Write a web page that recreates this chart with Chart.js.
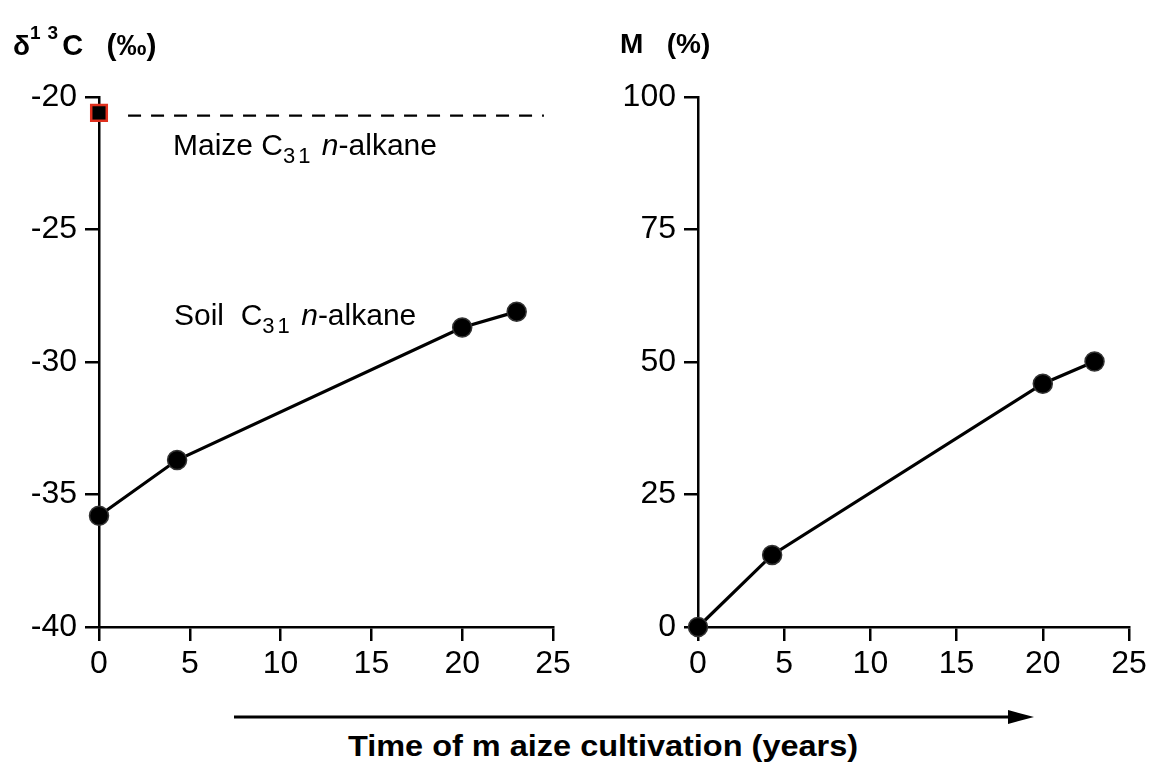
<!DOCTYPE html>
<html>
<head>
<meta charset="utf-8">
<script src="https://cdn.jsdelivr.net/npm/chart.js@4.4.0/dist/chart.umd.min.js"></script>
<style>
  body { margin: 0; background: #fff; width: 1176px; height: 769px; position: relative; overflow: hidden;
         font-family: "Liberation Sans", Arial, sans-serif; color: #000; }
  .panel { position: absolute; top: 0; }
  .txt { position: absolute; white-space: pre; line-height: 1; }
  .ttl { font-weight: bold; font-size: 28px; }
  .ann { font-size: 30px; }
  .sub { position: relative; top: 8px; font-size: 22px; letter-spacing: 3px; }
  .sup { position: relative; top: -16px; font-size: 19px; letter-spacing: 7px; margin-right: -3px; }
</style>
</head>
<body>
<div class="panel" style="left:0;width:590px;height:700px"><canvas id="leftChart" width="590" height="700"></canvas></div>
<div class="panel" style="left:599px;width:567px;height:700px"><canvas id="rightChart" width="567" height="700"></canvas></div>

<div class="txt ttl" style="left:13px;top:30px">δ<span class="sup">13</span><span style="font-size:29px">C</span>   <span style="font-size:30px">(‰)</span></div>
<div class="txt ttl" style="left:620px;top:30px">M   (%)</div>
<div class="txt ann" style="left:173px;top:130px">Maize C<span class="sub">31</span> <i>n</i>-alkane</div>
<div class="txt ann" style="left:174px;top:300px">Soil  C<span class="sub">31</span> <i>n</i>-alkane</div>
<div class="txt ttl" style="left:603px;top:732px;font-size:29px;transform:translateX(-50%) scaleX(1.12)">Time of m aize cultivation (years)</div>

<svg style="position:absolute;left:0;top:0" width="1176" height="769">
  <line x1="234" y1="717" x2="1012" y2="717" stroke="#000" stroke-width="3"/>
  <polygon points="1008,710 1034,717 1008,724" fill="#000"/>
</svg>

<script>
	// values
	var years = [0, 4.3, 20, 23];
	var soilDelta = [-35.8, -33.7, -28.7, -28.1];
	var maizeDelta = -20.6;
	var maizeLineX = [1.6, 24.5];
	var maizeLineY = -20.7;
	var mixPercent = [0, 13.6, 45.9, 50.1];

	var xTicks = [0, 5, 10, 15, 20, 25];
	var leftTicks = [-40, -35, -30, -25, -20];
	var rightTicks = [0, 25, 50, 75, 100];

	var tickFont = { family: '"Liberation Sans", Arial, sans-serif', size: 32 };

	function pts(xs, ys) {
		return xs.map(function (x, i) { return { x: x, y: ys[i] }; });
	}

	function axis(min, max, step, pad, fit) {
		return {
			type: 'linear',
			min: min,
			max: max,
			ticks: { stepSize: step, color: '#000', font: tickFont, padding: pad },
			grid: { drawOnChartArea: false, drawTicks: true, tickLength: 14, color: '#000', lineWidth: 2.5 },
			border: { display: true, color: '#000', width: 2.5 },
			afterFit: fit
		};
	}

	// chart area: left edge 99px inside the canvas, top 97, bottom 627
	function makeChart(id, canvasW, plotW, yTicks, datasets) {
		return new Chart(document.getElementById(id), {
			type: 'line',
			data: { datasets: datasets },
			options: {
				responsive: false,
				animation: false,
				devicePixelRatio: 1,
				layout: { padding: { left: 0, top: 97, right: canvasW - 99 - plotW, bottom: 0 } },
				plugins: { legend: { display: false }, tooltip: { enabled: false } },
				scales: {
					x: axis(xTicks[0], xTicks[xTicks.length - 1], 5, 4, function (s) { s.height = 73; }),
					y: axis(yTicks[0], yTicks[yTicks.length - 1], yTicks[1] - yTicks[0], 8, function (s) { s.width = 99; })
				}
			}
		});
	}

	var dotStyle = {
		borderColor: '#000',
		borderWidth: 3.2,
		tension: 0,
		pointRadius: 9.5,
		pointBackgroundColor: '#000',
		pointBorderColor: '#333',
		pointBorderWidth: 1.5,
		clip: false
	};

	makeChart('leftChart', 590, 454, leftTicks, [
		Object.assign({ data: pts(years, soilDelta) }, dotStyle),
		{
			data: pts([0], [maizeDelta]),
			showLine: false,
			pointStyle: 'rect',
			pointRadius: 11,
			pointBackgroundColor: '#000',
			pointBorderColor: '#e0301e',
			pointBorderWidth: 2.5,
			clip: false
		},
		{
			data: pts(maizeLineX, [maizeLineY, maizeLineY]),
			borderColor: '#000',
			borderWidth: 2.2,
			borderDash: [13, 10],
			pointRadius: 0,
			clip: false
		}
	]);

	makeChart('rightChart', 567, 431, rightTicks, [
		Object.assign({ data: pts(years, mixPercent) }, dotStyle)
	]);
</script>
</body>
</html>
